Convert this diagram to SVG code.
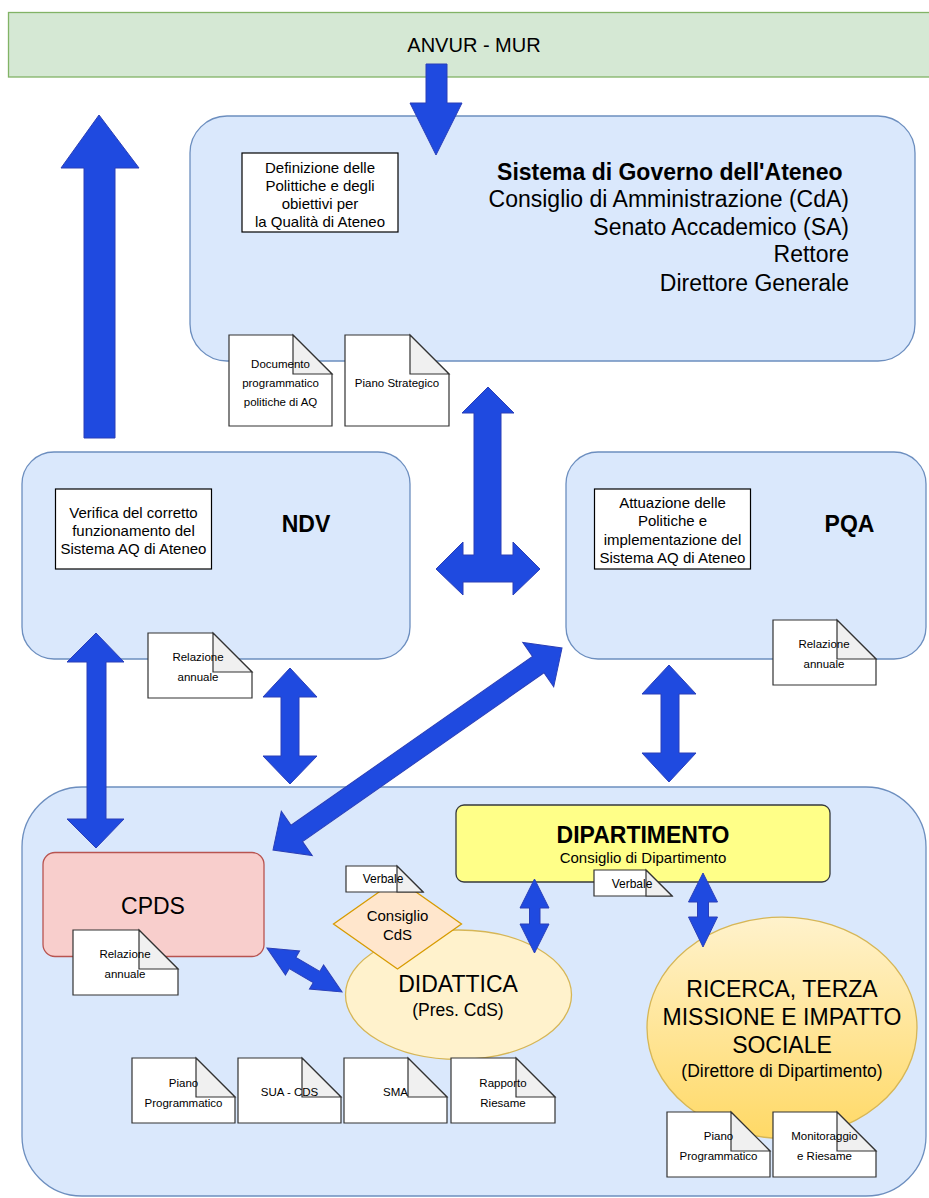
<svg xmlns="http://www.w3.org/2000/svg" width="929" height="1198" viewBox="0 0 929 1198">
<defs>
<linearGradient id="gYellow" x1="0" y1="0" x2="0" y2="1">
<stop offset="0" stop-color="#fff2cc"/>
<stop offset="1" stop-color="#ffd966"/>
</linearGradient>
<style>
text{font-family:"Liberation Sans",Arial,Helvetica,sans-serif;fill:#000;dominant-baseline:central;}
.blue{fill:#dae8fc;stroke:#6c8ebf;stroke-width:1.3;}
.box{fill:#fff;stroke:#000;stroke-width:1.2;}
.doc{fill:#fff;stroke:#333;stroke-width:1.2;}
.fold{fill:#f0f0f0;stroke:#333;stroke-width:1.2;}
.arr{fill:#1f4ae0;stroke:#2a3fb8;stroke-width:1;}
.c{text-anchor:middle;}
.e{text-anchor:end;}
.s11{font-size:11.5px;}
.s12{font-size:12px;}
.s15{font-size:15px;}
.s17{font-size:17.5px;}
.s20{font-size:20px;}
.s23{font-size:23px;}
.b{font-weight:bold;}
</style>
</defs>

<g id="anvur">
<rect x="8.5" y="12.5" width="935" height="64.5" fill="#d5e8d4" stroke="#82b366" stroke-width="1.3"/>
<text class="c s20" x="474" y="45">ANVUR - MUR</text>
</g>

<g id="governo">
<rect class="blue" x="190" y="116" width="725" height="245" rx="37" ry="37"/>
<rect class="box" x="242" y="153" width="156" height="79"/>
<text class="c s15" x="320" y="167">Definizione delle</text>
<text class="c s15" x="320" y="185">Polittiche e degli</text>
<text class="c s15" x="320" y="203">obiettivi per</text>
<text class="c s15" x="320" y="221">la Qualità di Ateneo</text>
<text class="e s23 b" x="842.5" y="172">Sistema di Governo dell'Ateneo</text>
<text class="e s23" x="849" y="199">Consiglio di Amministrazione (CdA)</text>
<text class="e s23" x="849" y="227">Senato Accademico (SA)</text>
<text class="e s23" x="849" y="254">Rettore</text>
<text class="e s23" x="849" y="283">Direttore Generale</text>
</g>

<g id="doc-programmatico-aq">
<path class="doc" d="M229 335 H293 L332 374 V426 H229 Z"/>
<path class="fold" d="M293 335 V374 H332 Z"/>
<text class="c s11" x="280.5" y="364">Documento</text>
<text class="c s11" x="280.5" y="383">programmatico</text>
<text class="c s11" x="280.5" y="402">politiche di AQ</text>
</g>

<g id="doc-piano-strategico">
<path class="doc" d="M345 335 H410 L449 374 V426 H345 Z"/>
<path class="fold" d="M410 335 V374 H449 Z"/>
<text class="c s11" x="397" y="383">Piano Strategico</text>
</g>

<g id="ndv">
<rect class="blue" x="22" y="452" width="388" height="207" rx="32" ry="32"/>
<rect class="box" x="55.5" y="489" width="156" height="80"/>
<text class="c s15" x="133.5" y="512">Verifica del corretto</text>
<text class="c s15" x="133.5" y="530">funzionamento del</text>
<text class="c s15" x="133.5" y="548">Sistema AQ di Ateneo</text>
<text class="c s23 b" x="306" y="524">NDV</text>
</g>

<g id="doc-ndv-relazione">
<path class="doc" d="M148 633 H213 L252 672 V698 H148 Z"/>
<path class="fold" d="M213 633 V672 H252 Z"/>
<text class="c s11" x="198" y="657">Relazione</text>
<text class="c s11" x="198" y="677">annuale</text>
</g>

<g id="pqa">
<rect class="blue" x="566" y="452" width="360" height="207" rx="32" ry="32"/>
<rect class="box" x="594.5" y="489" width="156" height="80"/>
<text class="c s15" x="672.5" y="502">Attuazione delle</text>
<text class="c s15" x="672.5" y="520">Politiche e</text>
<text class="c s15" x="672.5" y="539">implementazione del</text>
<text class="c s15" x="672.5" y="557">Sistema AQ di Ateneo</text>
<text class="c s23 b" x="849.5" y="524">PQA</text>
</g>

<g id="doc-pqa-relazione">
<path class="doc" d="M773 620 H837 L876 659 V685 H773 Z"/>
<path class="fold" d="M837 620 V659 H876 Z"/>
<text class="c s11" x="824" y="644">Relazione</text>
<text class="c s11" x="824" y="664">annuale</text>
</g>

<g id="struttura">
<rect class="blue" x="22" y="787" width="904" height="409" rx="60" ry="60"/>
</g>

<g id="cpds">
<rect x="43" y="852.5" width="221" height="104" rx="12" ry="12" fill="#f8cecc" stroke="#b85450" stroke-width="1.3"/>
<text class="c s23" x="153" y="906">CPDS</text>
</g>

<g id="doc-cpds-relazione">
<path class="doc" d="M73 930 H139 L178 969 V995 H73 Z"/>
<path class="fold" d="M139 930 V969 H178 Z"/>
<text class="c s11" x="125" y="954">Relazione</text>
<text class="c s11" x="125" y="974">annuale</text>
</g>

<g id="dipartimento">
<rect x="456" y="805" width="374" height="77" rx="8" ry="8" fill="#ffff88" stroke="#36393d" stroke-width="1.3"/>
<text class="c s23 b" x="643" y="835">DIPARTIMENTO</text>
<text class="c s15" x="643" y="857.5">Consiglio di Dipartimento</text>
</g>

<g id="doc-verbale-dip">
<path class="doc" d="M594 870 H646 L672 896 H594 Z"/>
<path class="fold" d="M646 870 V896 H672 Z"/>
<text class="c s12" x="632" y="884">Verbale</text>
</g>

<g id="didattica">
<ellipse cx="458.5" cy="994.7" rx="113" ry="64.7" fill="#fff2cc" stroke="#d6b656" stroke-width="1.3"/>
<text class="c s23" x="458" y="984">DIDATTICA</text>
<text class="c s17" x="458" y="1010">(Pres. CdS)</text>
</g>

<g id="consiglio-cds">
<polygon points="397.5,879 461.5,924 397.5,969 333.5,924" fill="#ffe6cc" stroke="#d79b00" stroke-width="1.3"/>
<text class="c s15" x="397.5" y="915">Consiglio</text>
<text class="c s15" x="397.5" y="934">CdS</text>
</g>

<g id="doc-verbale-cds">
<path class="doc" d="M346 866 H397 L423 892 H346 Z"/>
<path class="fold" d="M397 866 V892 H423 Z"/>
<text class="c s12" x="383" y="879">Verbale</text>
</g>

<g id="ricerca">
<ellipse cx="782" cy="1027.7" rx="135" ry="110.5" fill="url(#gYellow)" stroke="#d6b656" stroke-width="1.3"/>
<text class="c s23" x="782" y="989">RICERCA, TERZA</text>
<text class="c s23" x="782" y="1017">MISSIONE E IMPATTO</text>
<text class="c s23" x="782" y="1045">SOCIALE</text>
<text class="c s17" x="782" y="1071">(Direttore di Dipartimento)</text>
</g>

<g id="doc-piano-programmatico-cds">
<path class="doc" d="M132 1058 H196 L235 1097 V1123 H132 Z"/>
<path class="fold" d="M196 1058 V1097 H235 Z"/>
<text class="c s11" x="183.5" y="1083">Piano</text>
<text class="c s11" x="183.5" y="1103">Programmatico</text>
</g>

<g id="doc-sua-cds">
<path class="doc" d="M238 1058 H302 L341 1097 V1123 H238 Z"/>
<path class="fold" d="M302 1058 V1097 H341 Z"/>
<text class="c s11" x="289.5" y="1092">SUA - CDS</text>
</g>

<g id="doc-sma">
<path class="doc" d="M344 1058 H408 L447 1097 V1123 H344 Z"/>
<path class="fold" d="M408 1058 V1097 H447 Z"/>
<text class="c s11" x="395.5" y="1092">SMA</text>
</g>

<g id="doc-rapporto-riesame">
<path class="doc" d="M451 1058 H516 L555 1097 V1123 H451 Z"/>
<path class="fold" d="M516 1058 V1097 H555 Z"/>
<text class="c s11" x="503" y="1083">Rapporto</text>
<text class="c s11" x="503" y="1103">Riesame</text>
</g>

<g id="doc-piano-programmatico-dip">
<path class="doc" d="M667 1112 H731 L770 1151 V1177 H667 Z"/>
<path class="fold" d="M731 1112 V1151 H770 Z"/>
<text class="c s11" x="718.5" y="1136">Piano</text>
<text class="c s11" x="718.5" y="1156">Programmatico</text>
</g>

<g id="doc-monitoraggio-riesame">
<path class="doc" d="M773 1112 H837 L876 1151 V1177 H773 Z"/>
<path class="fold" d="M837 1112 V1151 H876 Z"/>
<text class="c s11" x="824.5" y="1136">Monitoraggio</text>
<text class="c s11" x="824.5" y="1156">e Riesame</text>
</g>

<g id="connectors">
<polygon class="arr" points="426,64 447,64 447,103 462,103 436,155 410,103 426,103"/>
<polygon class="arr" points="99,115 139,168 115,168 115,438 84,438 84,168 61,168"/>
<polygon class="arr" points="488,387 514,413 501,413 501,555 513,555 513,542 540,569 513,595 513,582 463,582 463,595 436,569 463,542 463,555 474,555 474,413 462,413"/>
<polygon class="arr" points="96,633 124,662 106,662 106,819 124,819 96,848 67,819 87,819 87,662 67,662"/>
<polygon class="arr" points="290,668 317,697 299,697 299,756 317,756 290,784 263,756 281,756 281,697 263,697"/>
<polygon class="arr" points="669,665 696,694 679,694 679,753 696,753 669,782 642,753 661,753 661,694 642,694"/>
<polygon class="arr" transform="translate(273,850) rotate(-34.95)" points="0,0 29,-27 29,-10 323.6,-10 323.6,-27 352.6,0 323.6,27 323.6,10 29,10 29,27"/>
<polygon class="arr" transform="translate(267,948) rotate(30.4)" points="0,0 29.6,-14 29.6,-6.5 57.4,-6.5 57.4,-14 87,0 57.4,14 57.4,6.5 29.6,6.5 29.6,14"/>
<polygon class="arr" points="534.5,879 549,908 540,908 540,924 549,924 534.5,953 520,924 529.5,924 529.5,908 520,908"/>
<polygon class="arr" points="703,873 717.5,902 708.5,902 708.5,917 717.5,917 703,947 688.5,917 697.5,917 697.5,902 688.5,902"/>
</g>
</svg>
